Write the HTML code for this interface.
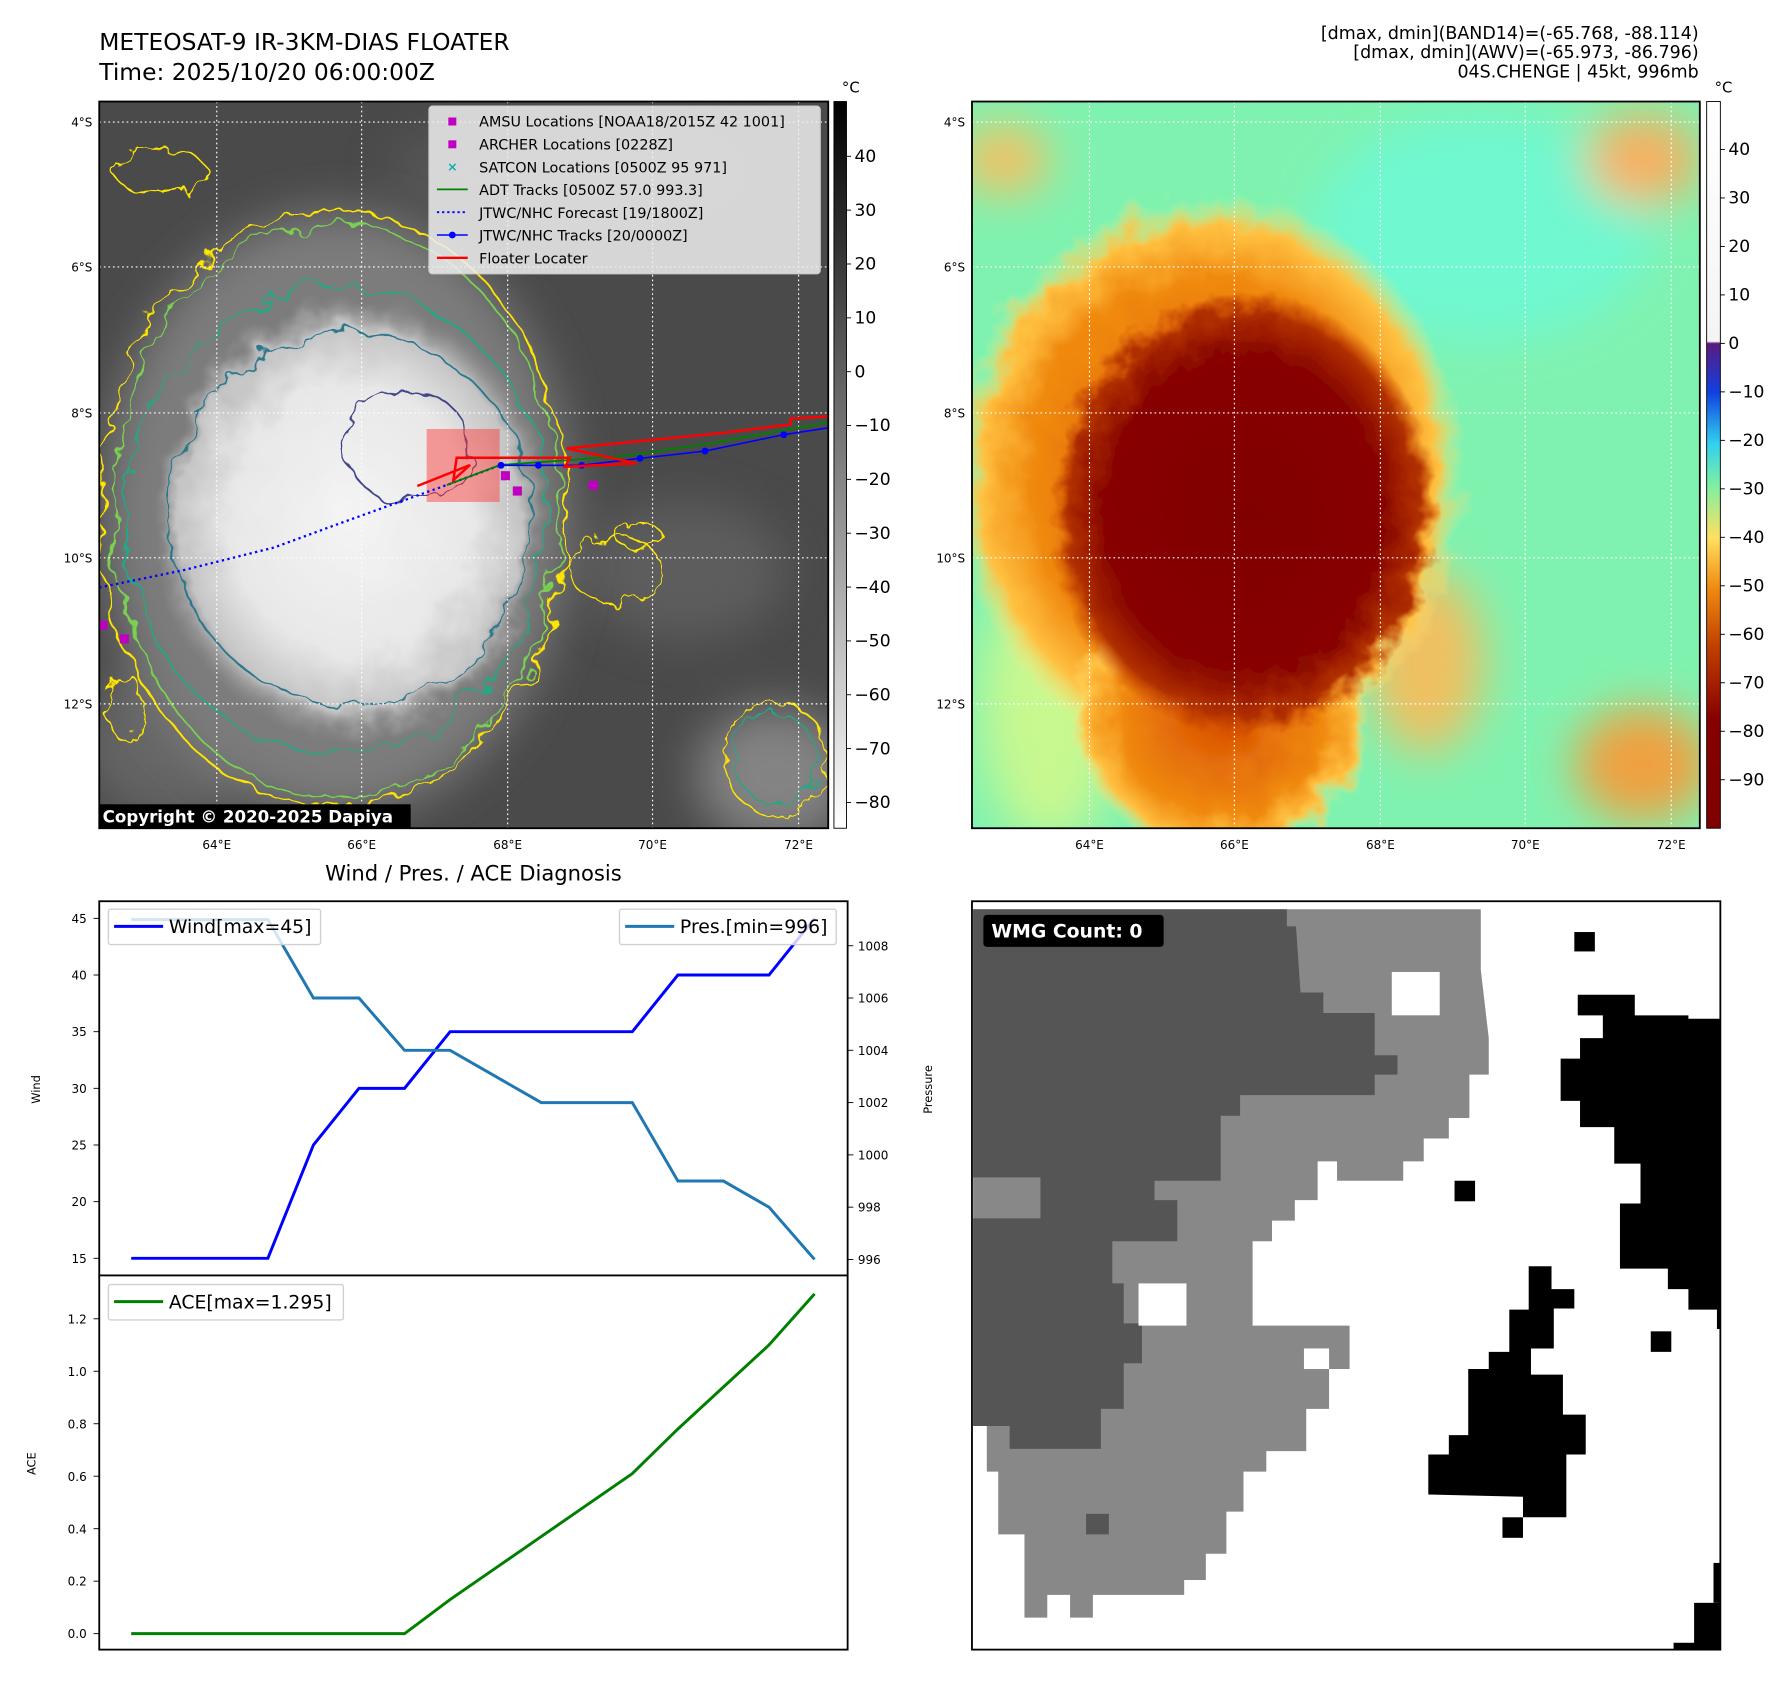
<!DOCTYPE html>
<html><head><meta charset="utf-8">
<style>
html,body{margin:0;padding:0;background:#fff;}
svg{display:block;font-family:"DejaVu Sans","Liberation Sans",sans-serif;}
</style></head>
<body>
<svg id="root" width="1792" height="1690" viewBox="0 0 1570.8 1481.4" xmlns="http://www.w3.org/2000/svg">
<defs>
  <filter id="wob" x="-20%" y="-20%" width="140%" height="140%">
    <feTurbulence type="fractalNoise" baseFrequency="0.035" numOctaves="3" seed="4"/>
    <feDisplacementMap in="SourceGraphic" scale="28"/>
  </filter>
  <filter id="wob2" x="-20%" y="-20%" width="140%" height="140%">
    <feTurbulence type="fractalNoise" baseFrequency="0.05" numOctaves="3" seed="9"/>
    <feDisplacementMap in="SourceGraphic" scale="22"/>
  </filter>
  <filter id="blur20"><feGaussianBlur stdDeviation="20"/></filter>
  <radialGradient id="irDisk" cx="0.5" cy="0.5" r="0.5">
    <stop offset="0" stop-color="#f4f4f4"/><stop offset="0.6" stop-color="#e8e8e8"/>
    <stop offset="0.85" stop-color="#c4c4c4"/><stop offset="1" stop-color="#8a8a8a" stop-opacity="0"/>
  </radialGradient>
  <radialGradient id="ring" cx="0.5" cy="0.5" r="0.5">
    <stop offset="0" stop-color="#d85000"/><stop offset="0.7" stop-color="#f08a10"/>
    <stop offset="0.88" stop-color="#ffc040"/><stop offset="1" stop-color="#ffe880" stop-opacity="0"/>
  </radialGradient>
  <radialGradient id="core" cx="0.5" cy="0.5" r="0.5">
    <stop offset="0" stop-color="#800000"/><stop offset="0.72" stop-color="#880600"/>
    <stop offset="0.9" stop-color="#b03000"/><stop offset="1" stop-color="#c84000" stop-opacity="0"/>
  </radialGradient>
  <linearGradient id="cbGrey" x1="0" y1="0" x2="0" y2="1">
    <stop offset="0" stop-color="#000"/><stop offset="1" stop-color="#fff"/>
  </linearGradient>
  <linearGradient id="cbColor" x1="0" y1="0" x2="0" y2="1">
    <stop offset="0" stop-color="#ffffff"/><stop offset="0.33" stop-color="#f4f4f4"/>
    <stop offset="0.333" stop-color="#5a1a80"/><stop offset="0.4" stop-color="#1040e0"/>
    <stop offset="0.47" stop-color="#30d0f0"/><stop offset="0.53" stop-color="#80f0a0"/>
    <stop offset="0.6" stop-color="#ffe060"/><stop offset="0.67" stop-color="#f08a10"/>
    <stop offset="0.75" stop-color="#c04000"/><stop offset="0.85" stop-color="#880000"/>
    <stop offset="1" stop-color="#800000"/>
  </linearGradient>
  <clipPath id="clipL"><rect x="87" y="89" width="639" height="637"/></clipPath>
  <clipPath id="clipR"><rect x="852" y="89" width="638" height="637"/></clipPath>
  <clipPath id="clipW"><rect x="852" y="790" width="656" height="656"/></clipPath>
</defs>

<!-- Titles -->
<text x="87" y="44" font-size="20.5">METEOSAT-9 IR-3KM-DIAS FLOATER</text>
<text x="87" y="70" font-size="20.5">Time: 2025/10/20 06:00:00Z</text>
<g font-size="15.3" text-anchor="end">
  <text x="1489" y="34">[dmax, dmin](BAND14)=(-65.768, -88.114)</text>
  <text x="1489" y="51">[dmax, dmin](AWV)=(-65.973, -86.796)</text>
  <text x="1489" y="68">04S.CHENGE | 45kt, 996mb</text>
</g>

<!-- Left IR map -->
<g clip-path="url(#clipL)">
  <rect x="87" y="89" width="639" height="637" fill="#4a4a4a"/>
  <g filter="url(#blur20)" opacity="0.6">
    <ellipse cx="600" cy="500" rx="90" ry="60" fill="#6a6a6a"/>
    <ellipse cx="500" cy="150" rx="160" ry="50" fill="#5e5e5e"/>
    <ellipse cx="150" cy="650" rx="80" ry="70" fill="#777"/>
    <ellipse cx="680" cy="680" rx="70" ry="60" fill="#aaa"/>
  </g>
  <ellipse cx="295" cy="450" rx="205" ry="265" fill="#7c7c7c" filter="url(#blur20)"/>
  <ellipse cx="308" cy="455" rx="175" ry="195" fill="url(#irDisk)" filter="url(#wob)"/>
  <g fill="none" stroke-width="1.6" filter="url(#wob)">
    <ellipse cx="292" cy="446" rx="205" ry="262" stroke="#ffe600"/>
    <ellipse cx="295" cy="448" rx="196" ry="252" stroke="#7ad151"/>
    <ellipse cx="295" cy="455" rx="185" ry="205" stroke="#22a884"/>
    <ellipse cx="308" cy="455" rx="158" ry="163" stroke="#2a788e"/>
    <ellipse cx="358" cy="392" rx="55" ry="48" stroke="#414487"/>
  </g>
  <g fill="none" stroke-width="1.4" filter="url(#wob2)">
    <ellipse cx="140" cy="150" rx="40" ry="20" stroke="#ffe600"/>
    <ellipse cx="680" cy="665" rx="45" ry="50" stroke="#ffe600"/>
    <ellipse cx="680" cy="665" rx="35" ry="40" stroke="#22a884"/>
    <ellipse cx="540" cy="500" rx="40" ry="30" stroke="#ffe600"/>
    <ellipse cx="560" cy="470" rx="20" ry="12" stroke="#ffe600"/>
    <ellipse cx="110" cy="620" rx="15" ry="30" stroke="#ffe600"/>
  </g>
  <g stroke="#fff" stroke-width="1" stroke-dasharray="1.5,2.5">
    <line x1="190" y1="89" x2="190" y2="726"/><line x1="317" y1="89" x2="317" y2="726"/>
    <line x1="445" y1="89" x2="445" y2="726"/><line x1="572" y1="89" x2="572" y2="726"/>
    <line x1="700" y1="89" x2="700" y2="726"/>
    <line x1="87" y1="107" x2="726" y2="107"/><line x1="87" y1="234" x2="726" y2="234"/>
    <line x1="87" y1="362" x2="726" y2="362"/><line x1="87" y1="489" x2="726" y2="489"/>
    <line x1="87" y1="617" x2="726" y2="617"/>
  </g>
  <rect x="374" y="376" width="64" height="64" fill="#ff3030" fill-opacity="0.45"/>
  <polyline points="87,515 160,500 240,480 300,458 350,440 392,425 438,408" fill="none" stroke="#0000ff" stroke-width="2" stroke-dasharray="2,3"/>
  <polyline points="391.6,425.2 438.3,407.6 499.6,403.2 555.2,398.8 631,387.2 726,370" fill="none" stroke="#008000" stroke-width="1.6"/>
  <polyline points="439.2,407.9 471.9,407.9 509.9,407.9 561,401.8 618,395.4 687,381 726,375" fill="none" stroke="#0000ff" stroke-width="1.4"/>
  <g fill="#0000ff">
    <circle cx="439.2" cy="407.9" r="3"/><circle cx="471.9" cy="407.9" r="3"/><circle cx="509.9" cy="407.9" r="3"/>
    <circle cx="561" cy="401.8" r="3"/><circle cx="618" cy="395.4" r="3"/><circle cx="687" cy="381" r="3"/>
  </g>
  <polyline points="365.8,426 412,407.6 397.4,420.8 400.3,401.2 499.6,401.2 495.3,409.1 558.1,406.1 496.7,393 631,379.8 693,372 693,367 726,365" fill="none" stroke="#ff0000" stroke-width="2.2"/>
  <g fill="#c000c0">
    <rect x="439" y="413" width="8" height="8"/><rect x="449.5" y="426.4" width="8" height="8"/>
    <rect x="516" y="421.4" width="8" height="8"/><rect x="86" y="544" width="8" height="8"/>
    <rect x="105" y="556" width="8" height="8"/>
  </g>
  <g>
    <rect x="376" y="93" width="343" height="147" rx="3" fill="#eeeeee" fill-opacity="0.85" stroke="#ccc"/>
    <g font-size="12.6">
      <rect x="393" y="103" width="7" height="7" fill="#c000c0"/><text x="420" y="111">AMSU Locations [NOAA18/2015Z 42 1001]</text>
      <rect x="393" y="123" width="7" height="7" fill="#c000c0"/><text x="420" y="131">ARCHER Locations [0228Z]</text>
      <text x="396.5" y="150" font-size="11" text-anchor="middle" fill="#00b0b0" font-weight="bold">×</text><text x="420" y="151">SATCON Locations [0500Z 95 971]</text>
      <line x1="383" y1="166" x2="410" y2="166" stroke="#008000" stroke-width="1.6"/><text x="420" y="171">ADT Tracks [0500Z 57.0 993.3]</text>
      <line x1="383" y1="186" x2="410" y2="186" stroke="#0000ff" stroke-width="1.6" stroke-dasharray="2,2.5"/><text x="420" y="191">JTWC/NHC Forecast [19/1800Z]</text>
      <line x1="383" y1="206" x2="410" y2="206" stroke="#0000ff" stroke-width="1.4"/><circle cx="396.5" cy="206" r="3" fill="#0000ff"/><text x="420" y="211">JTWC/NHC Tracks [20/0000Z]</text>
      <line x1="383" y1="226" x2="410" y2="226" stroke="#ff0000" stroke-width="2"/><text x="420" y="231">Floater Locater</text>
    </g>
  </g>
  <rect x="87" y="705" width="273" height="21" fill="#000"/>
  <text x="90" y="721" font-size="14.6" font-weight="bold" fill="#fff">Copyright © 2020-2025 Dapiya</text>
</g>
<rect x="87" y="89" width="639" height="637" fill="none" stroke="#000" stroke-width="1.6"/>

<!-- Right AWV map -->
<g clip-path="url(#clipR)">
  <rect x="852" y="89" width="638" height="637" fill="#80f2b0"/>
  <g filter="url(#blur20)">
    <ellipse cx="1300" cy="200" rx="150" ry="100" fill="#70f8d0"/>
    <ellipse cx="920" cy="620" rx="60" ry="120" fill="#c8f890"/>
    <ellipse cx="1440" cy="670" rx="60" ry="50" fill="#f0a040"/>
    <ellipse cx="1440" cy="140" rx="50" ry="40" fill="#f8b060"/>
    <ellipse cx="880" cy="140" rx="40" ry="30" fill="#f8c060"/>
    <ellipse cx="1250" cy="580" rx="50" ry="80" fill="#f0c060"/>
  </g>
  <g filter="url(#wob)">
    <ellipse cx="1060" cy="420" rx="225" ry="250" fill="url(#ring)"/>
    <ellipse cx="1070" cy="630" rx="130" ry="120" fill="url(#ring)"/>
  </g>
  <g filter="url(#wob2)">
    <ellipse cx="1090" cy="450" rx="170" ry="195" fill="url(#core)"/>
  </g>
  <g stroke="#fff" stroke-width="1" stroke-dasharray="1.5,2.5">
    <line x1="955" y1="89" x2="955" y2="726"/><line x1="1082" y1="89" x2="1082" y2="726"/>
    <line x1="1210" y1="89" x2="1210" y2="726"/><line x1="1337" y1="89" x2="1337" y2="726"/>
    <line x1="1465" y1="89" x2="1465" y2="726"/>
    <line x1="852" y1="107" x2="1490" y2="107"/><line x1="852" y1="234" x2="1490" y2="234"/>
    <line x1="852" y1="362" x2="1490" y2="362"/><line x1="852" y1="489" x2="1490" y2="489"/>
    <line x1="852" y1="617" x2="1490" y2="617"/>
  </g>
</g>
<rect x="852" y="89" width="638" height="637" fill="none" stroke="#000" stroke-width="1.6"/>

<!-- map tick labels -->
<g font-size="10.5" text-anchor="end">
  <text x="81" y="111">4°S</text><text x="81" y="238">6°S</text><text x="81" y="366">8°S</text><text x="81" y="493">10°S</text><text x="81" y="621">12°S</text>
  <text x="846" y="111">4°S</text><text x="846" y="238">6°S</text><text x="846" y="366">8°S</text><text x="846" y="493">10°S</text><text x="846" y="621">12°S</text>
</g>
<g font-size="10.5" text-anchor="middle">
  <text x="190" y="744">64°E</text><text x="317" y="744">66°E</text><text x="445" y="744">68°E</text><text x="572" y="744">70°E</text><text x="700" y="744">72°E</text>
  <text x="955" y="744">64°E</text><text x="1082" y="744">66°E</text><text x="1210" y="744">68°E</text><text x="1337" y="744">70°E</text><text x="1465" y="744">72°E</text>
</g>

<!-- colorbars -->
<g>
  <rect x="731" y="89" width="11" height="637" fill="url(#cbGrey)" stroke="#000" stroke-width="0.8"/>
  <text x="738" y="81" font-size="13">°C</text>
  <g font-size="15" id="cbLticks"></g>
</g>
<g>
  <rect x="1496" y="89" width="12" height="637" fill="url(#cbColor)" stroke="#000" stroke-width="0.8"/>
  <text x="1503" y="81" font-size="13">°C</text>
  <g font-size="15" id="cbRticks"></g>
</g>

<!-- bottom-left chart -->
<text x="415" y="772" font-size="18.5" text-anchor="middle">Wind / Pres. / ACE Diagnosis</text>
<g id="chart"></g>

<!-- WMG panel -->
<g clip-path="url(#clipW)">
  <rect x="852" y="790" width="656" height="656" fill="#fff"/>
  <polygon fill="#888" points="853,797 1298,797 1298,850 1305,910 1305,942 1288,942 1288,980 1270,980 1270,998 1248,998 1248,1018 1230,1018 1230,1035 1172,1035 1172,1018 1155,1018 1155,1052 1135,1052 1135,1070 1115,1070 1115,1088 1098,1088 1098,1162 1183,1162 1183,1200 1165,1200 1165,1235 1145,1235 1145,1272 1110,1272 1110,1290 1090,1290 1090,1325 1075,1325 1075,1362 1057,1362 1057,1385 1038,1385 1038,1398 958,1398 958,1418 938,1418 938,1398 918,1398 918,1418 898,1418 898,1345 875,1345 875,1290 865,1290 865,1250 853,1250"/>
  <polygon fill="#555" points="853,797 1128,797 1128,812 1136,812 1140,870 1160,870 1160,888 1205,888 1205,925 1225,925 1225,942 1205,942 1205,960 1087,960 1087,978 1070,978 1070,1035 1012,1035 1012,1052 1032,1052 1032,1088 975,1088 975,1125 985,1125 985,1160 1001,1160 1001,1195 985,1195 985,1235 965,1235 965,1270 885,1270 885,1250 865,1250 853,1250 853,1068 912,1068 912,1032 853,1032"/>
  <rect x="952" y="1327" width="20" height="18" fill="#555"/>
  <g fill="#fff">
    <rect x="1220" y="852" width="42" height="38"/><rect x="998" y="1125" width="42" height="37"/><rect x="1143" y="1182" width="22" height="18"/>
  </g>
  <g fill="#000">
    <rect x="1380" y="817" width="18" height="17"/>
    <polygon points="1383,872 1433,872 1433,890 1480,890 1480,893 1508,893 1508,1165 1505,1165 1505,1148 1480,1148 1480,1130 1462,1130 1462,1112 1420,1112 1420,1055 1438,1055 1438,1020 1415,1020 1415,988 1385,988 1385,965 1368,965 1368,928 1385,928 1385,910 1405,910 1405,890 1383,890"/>
    <rect x="1275" y="1035" width="18" height="18"/><rect x="1447" y="1167" width="18" height="18"/>
    <polygon points="1340,1110 1360,1110 1360,1130 1380,1130 1380,1147 1362,1147 1362,1182 1342,1182 1342,1205 1370,1205 1370,1240 1390,1240 1390,1275 1373,1275 1373,1330 1335,1330 1335,1312 1252,1310 1252,1275 1270,1275 1270,1258 1287,1258 1287,1200 1305,1200 1305,1185 1323,1185 1323,1148 1340,1148"/>
    <rect x="1317" y="1330" width="18" height="18"/>
    <rect x="1502" y="1370" width="8" height="35"/><rect x="1485" y="1405" width="25" height="41"/><rect x="1467" y="1440" width="20" height="6"/>
  </g>
  <rect x="862" y="802" width="158" height="28" rx="3" fill="#000"/>
  <text x="869" y="822" font-size="16.5" font-weight="bold" fill="#fff">WMG Count: 0</text>
</g>
<rect x="852" y="790" width="656" height="656" fill="none" stroke="#000" stroke-width="1.6"/>

<script>
// ---- chart data ----
const steps = [0,1,2,3,4,5,6,7,8,9,10,11,12,13,14,15];
const windValues = [15,15,15,15,25,30,30,35,35,35,35,35,40,40,40,45];
const pressureValues = [1009,1009,1009,1009,1006,1006,1004,1004,1003,1002,1002,1002,999,999,998,996];
const aceValues = [0,0,0,0,0,0,0,0.13,0.25,0.37,0.49,0.61,0.78,0.94,1.1,1.295];
const windTicks = [15,20,25,30,35,40,45];
const pressureTicks = [996,998,1000,1002,1004,1006,1008];
const aceTicks = [0.0,0.2,0.4,0.6,0.8,1.0,1.2];
const cbLeftTicks = [40,30,20,10,0,-10,-20,-30,-40,-50,-60,-70,-80];
const cbRightTicks = [40,30,20,10,0,-10,-20,-30,-40,-50,-60,-70,-80,-90];

const NS = 'http://www.w3.org/2000/svg';
function mk(tag, attrs, parent){
  const e = document.createElementNS(NS, tag);
  for (const k in attrs) e.setAttribute(k, attrs[k]);
  parent.appendChild(e); return e;
}
const xS = i => 115 + (714-115) * i / 15;
const windY = v => 1103 + (805-1103) * (v-15) / 30;
const presY = v => 1104 + (829-1104) * (v-996) / 12;
const aceY = v => 1432 + (1156-1432) * v / 1.2;

const cbL = document.getElementById('cbLticks');
cbLeftTicks.forEach(t => {
  const y = 137 + (t - 40) * (-4.72);
  mk('line', {x1:742, y1:y, x2:746, y2:y, stroke:'#000', 'stroke-width':0.8}, cbL);
  const tx = mk('text', {x:749, y:y+5}, cbL);
  tx.textContent = (t < 0 ? '\u2212' + (-t) : String(t));
  
  
});
const cbR = document.getElementById('cbRticks');
cbRightTicks.forEach(t => {
  const y = 131 + (t - 40) * (-4.25);
  mk('line', {x1:1508, y1:y, x2:1512, y2:y, stroke:'#000', 'stroke-width':0.8}, cbR);
  const tx = mk('text', {x:1515, y:y+5}, cbR);
  tx.textContent = (t < 0 ? '\u2212' + (-t) : String(t));
  
  
});

const g = document.getElementById('chart');
mk('rect', {x:87, y:790, width:656, height:328, fill:'#fff', stroke:'#000', 'stroke-width':1.6}, g);
mk('rect', {x:87, y:1118, width:656, height:328, fill:'#fff', stroke:'#000', 'stroke-width':1.6}, g);

windTicks.forEach(t => {
  const y = windY(t);
  mk('line', {x1:82, y1:y, x2:87, y2:y, stroke:'#000', 'stroke-width':0.8}, g);
  const tx = mk('text', {x:76, y:y+4, 'font-size':10.5, 'text-anchor':'end'}, g);
  tx.textContent = t;
  
  
});
pressureTicks.forEach(t => {
  const y = presY(t);
  mk('line', {x1:743, y1:y, x2:748, y2:y, stroke:'#000', 'stroke-width':0.8}, g);
  const tx = mk('text', {x:752, y:y+4, 'font-size':10.5}, g);
  tx.textContent = t;
  
  
});
aceTicks.forEach(t => {
  const y = aceY(t);
  mk('line', {x1:82, y1:y, x2:87, y2:y, stroke:'#000', 'stroke-width':0.8}, g);
  const tx = mk('text', {x:76, y:y+4, 'font-size':10.5, 'text-anchor':'end'}, g);
  tx.textContent = t.toFixed(1);
  
  
});

const yl1 = mk('text', {x:0, y:0, 'font-size':10, 'text-anchor':'middle', transform:'translate(35,955) rotate(-90)'}, g);
yl1.textContent = 'Wind';


const yl2 = mk('text', {x:0, y:0, 'font-size':10, 'text-anchor':'middle', transform:'translate(817,955) rotate(-90)'}, g);
yl2.textContent = 'Pressure';


const yl3 = mk('text', {x:0, y:0, 'font-size':10, 'text-anchor':'middle', transform:'translate(31,1283) rotate(-90)'}, g);
yl3.textContent = 'ACE';



const pts = (arr, f) => arr.map((v,i) => xS(steps[i]) + ',' + f(v)).join(' ');
const wl = mk('polyline', {points: pts(windValues, windY), fill:'none', stroke:'#0000ff', 'stroke-width':2.6}, g);


const pl = mk('polyline', {points: pts(pressureValues, presY), fill:'none', stroke:'#1f77b4', 'stroke-width':2.6}, g);


const al = mk('polyline', {points: pts(aceValues, aceY), fill:'none', stroke:'#008000', 'stroke-width':2.6}, g);



function legend(x, y, w, color, label, name){
  const lg = mk('g', {}, g);
  
  
  mk('rect', {x:x, y:y, width:w, height:31, rx:2, fill:'#fff', 'fill-opacity':0.8, stroke:'#d0d0d0', 'stroke-width':1.2}, lg);
  mk('line', {x1:x+5, y1:y+15, x2:x+48, y2:y+15, stroke:color, 'stroke-width':2.6}, lg);
  const t = mk('text', {x:x+53, y:y+21, 'font-size':16.5}, lg);
  t.textContent = label;
}
legend(95, 797, 186, '#0000ff', 'Wind[max=45]', 'wind-legend');
legend(543, 797, 190, '#1f77b4', 'Pres.[min=996]', 'pressure-legend');
legend(95, 1126, 206, '#008000', 'ACE[max=1.295]', 'ace-legend');
</script>
</svg>
</body></html>
